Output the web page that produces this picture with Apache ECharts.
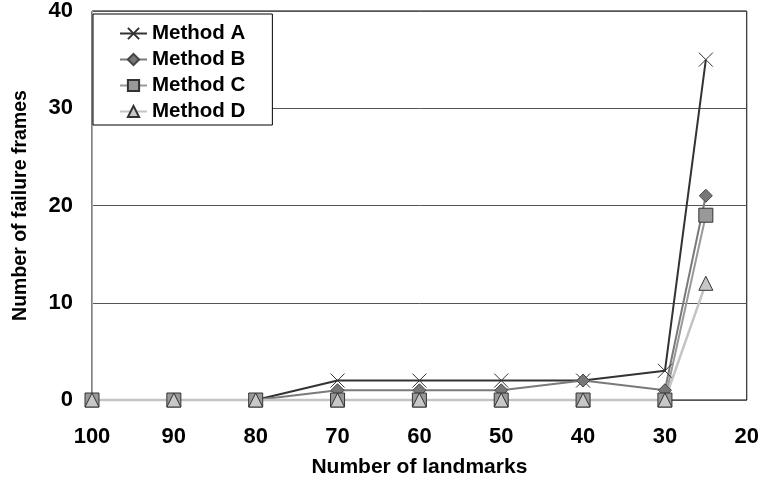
<!DOCTYPE html>
<html><head><meta charset="utf-8">
<script src="https://cdn.jsdelivr.net/npm/echarts@6/dist/echarts.min.js"></script>
<style>html,body{margin:0;padding:0;background:#fff}#c{width:762px;height:483px}</style>
</head><body><div id="c"></div>
<script>
const landmarks = [100, 90, 80, 70, 60, 50, 40, 30, 25];
const methodA = [0, 0, 0, 2, 2, 2, 2, 3, 35];
const methodB = [0, 0, 0, 1, 1, 1, 2, 1, 21];
const methodC = [0, 0, 0, 0, 0, 0, 0, 0, 19];
const methodD = [0, 0, 0, 0, 0, 0, 0, 0, 12];
const names = ['Method A', 'Method B', 'Method C', 'Method D'];
const FONT = '"Liberation Sans", Arial, sans-serif';
const pair = arr => landmarks.map((x, i) => [x, arr[i]]);
const chart = echarts.init(document.getElementById('c'));
chart.setOption({
  animation: false,
  backgroundColor: '#fff',
  grid: {left: 92, right: 14, top: 10, bottom: 83, show: true, borderColor: '#000', borderWidth: 1},
  legend: {
    orient: 'vertical', left: 93, top: 14,
    padding: [9, 27, 3, 26], itemGap: 5, itemWidth: 27, itemHeight: 14,
    backgroundColor: '#fff', borderColor: '#000', borderWidth: 1,
    textStyle: {fontFamily: FONT, fontWeight: 'bold', fontSize: 20.5, color: '#000'},
    data: names
  },
  xAxis: {
    type: 'value', min: 20, max: 100, interval: 10, inverse: true,
    name: 'Number of landmarks', nameLocation: 'middle', nameGap: 57,
    nameTextStyle: {fontFamily: FONT, fontWeight: 'bold', fontSize: 21, color: '#000'},
    axisLine: {show: false}, axisTick: {show: false}, splitLine: {show: false},
    axisLabel: {fontFamily: FONT, fontWeight: 'bold', fontSize: 22, color: '#000', margin: 26}
  },
  yAxis: {
    type: 'value', min: 0, max: 40, interval: 10,
    name: 'Number of failure frames', nameLocation: 'middle', nameGap: 61,
    nameTextStyle: {fontFamily: FONT, fontWeight: 'bold', fontSize: 19.5, color: '#000'},
    axisLine: {show: true, lineStyle: {color: '#aaa'}}, axisTick: {show: false},
    splitLine: {show: true, lineStyle: {color: '#555', width: 1}},
    axisLabel: {fontFamily: FONT, fontWeight: 'bold', fontSize: 22, color: '#000', margin: 19}
  },
  series: [
    {name: names[0], type: 'line', data: pair(methodA), clip: false,
     symbol: 'path://M0,0L10,10M10,0L0,10', symbolSize: 14, showAllSymbol: true,
     lineStyle: {color: '#333', width: 2},
     itemStyle: {color: 'rgba(0,0,0,0)', borderColor: '#333', borderWidth: 1}},
    {name: names[1], type: 'line', data: pair(methodB), clip: false,
     symbol: 'diamond', symbolSize: 13,
     lineStyle: {color: '#7a7a7a', width: 2},
     itemStyle: {color: '#777', borderColor: '#444', borderWidth: 1}},
    {name: names[2], type: 'line', data: pair(methodC), clip: false,
     symbol: 'rect', symbolSize: 14,
     lineStyle: {color: '#999', width: 2},
     itemStyle: {color: '#999', borderColor: '#333', borderWidth: 1}},
    {name: names[3], type: 'line', data: pair(methodD), clip: false,
     symbol: 'triangle', symbolSize: 14,
     lineStyle: {color: '#c4c4c4', width: 2.5},
     itemStyle: {color: '#c8c8c8', borderColor: '#333', borderWidth: 1}}
  ]
});
</script></body></html>
